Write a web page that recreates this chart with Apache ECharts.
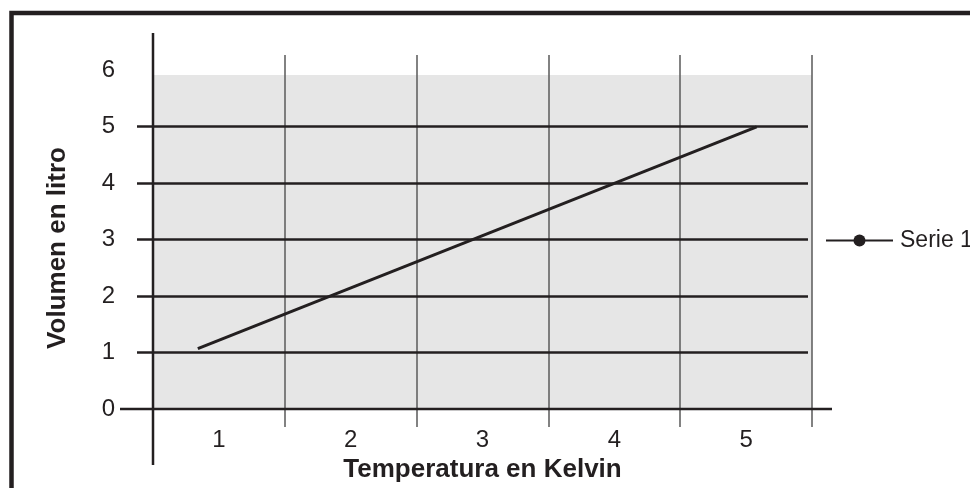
<!DOCTYPE html>
<html>
<head>
<meta charset="utf-8">
<script src="https://cdn.jsdelivr.net/npm/echarts@6/dist/echarts.min.js"></script>
<style>
html,body{margin:0;padding:0;background:#fff;}
#chart{width:970px;height:488px;}
</style>
</head>
<body>
<div id="chart"></div>
<script>
// ---- data ----
var categories = ['1', '2', '3', '4', '5'];
var yTicks = [0, 1, 2, 3, 4, 5, 6];
var seriesName = 'Serie 1';
var serieTemp = [0.84, 5.08];   // position along temperature axis (category centres = 1..5)
var serieVol = [1.07, 5.0];     // volume in litro
var yMin = 0, yMax = 6, yInterval = 1;
var shadeTop = 5.92;            // top of grey plot background
var xTitle = 'Temperatura en Kelvin';
var yTitle = 'Volumen en litro';

var INK = '#231f20';
var GRAYLINE = '#5a5a5a';
var FONT = '"Liberation Sans", Arial, sans-serif';

var lineData = serieTemp.map(function (t, i) { return [t, serieVol[i]]; });

var chart = echarts.init(document.getElementById('chart'), null, {renderer: 'canvas'});
chart.setOption({
  animation: false,
  backgroundColor: '#ffffff',
  textStyle: {fontFamily: FONT, color: INK},
  grid: [
    // grid 0: horizontal rules + y labels
    {left: 137, right: 162, top: 70, bottom: 79, show: false},
    // grid 1: shaded plot area + categories + series
    {left: 153, right: 158, top: 75, bottom: 79, show: true, backgroundColor: '#e6e6e6', borderWidth: 0, z: 0}
  ],
  xAxis: [
    {gridIndex: 0, type: 'value', show: false, min: 0, max: 1},
    {gridIndex: 1, type: 'category', data: categories, position: 'bottom', boundaryGap: true, z: 1,
      axisLine: {show: false},
      axisTick: {show: true, inside: false, length: 18, lineStyle: {color: GRAYLINE, width: 1.5}},
      axisLabel: {show: true, fontSize: 24, color: INK, fontFamily: FONT, margin: 19},
      splitLine: {show: true, lineStyle: {color: GRAYLINE, width: 1.5}},
      name: xTitle, nameLocation: 'middle', nameGap: 48,
      nameTextStyle: {fontSize: 26, fontWeight: 'bold', color: INK, fontFamily: FONT}
    },
    {gridIndex: 1, type: 'category', data: categories, position: 'top', boundaryGap: true, z: 1,
      axisLine: {show: false},
      axisTick: {show: true, inside: false, length: 20, lineStyle: {color: GRAYLINE, width: 1.5}},
      axisLabel: {show: false},
      splitLine: {show: false}
    },
    {gridIndex: 1, type: 'value', show: false, min: 0.5, max: 5.5}
  ],
  yAxis: [
    {gridIndex: 0, type: 'value', min: yMin, max: yMax, interval: yInterval, z: 2,
      axisLine: {show: false}, axisTick: {show: false},
      axisLabel: {show: true, fontSize: 24, color: INK, fontFamily: FONT, margin: 22, padding: [0, 0, 8, 0],
        formatter: function (v) { return yTicks.indexOf(v) >= 0 ? String(v) : ''; }},
      splitLine: {show: true, showMinLine: false, showMaxLine: false, lineStyle: {color: INK, width: 2.5}}
    },
    {gridIndex: 1, type: 'value', show: false, min: yMin, max: shadeTop}
  ],
  legend: {
    show: true, data: [seriesName], left: 825, top: 229, padding: 0,
    itemWidth: 67, itemHeight: 15,
    lineStyle: {width: 2, color: INK},
    itemStyle: {color: INK},
    textStyle: {fontSize: 23, color: INK, fontFamily: FONT, padding: [0, 0, 0, 2]}
  },
  series: [
    {name: seriesName, type: 'line', xAxisIndex: 3, yAxisIndex: 1, data: lineData,
      symbol: 'circle', symbolSize: 10, showSymbol: false, z: 5,
      lineStyle: {color: INK, width: 3}, itemStyle: {color: INK}}
  ],
  graphic: [
    {type: 'rect', z: 20, silent: true, shape: {x: 11.5, y: 13, width: 1200, height: 1000},
      style: {fill: 'none', stroke: INK, lineWidth: 4.5}},
    {type: 'line', z: 20, silent: true, shape: {x1: 153, y1: 33, x2: 153, y2: 465},
      style: {stroke: INK, lineWidth: 2.5}},
    {type: 'line', z: 20, silent: true, shape: {x1: 120, y1: 409, x2: 832, y2: 409},
      style: {stroke: INK, lineWidth: 2.5}},
    {type: 'text', z: 20, silent: true, x: 58, y: 248, rotation: Math.PI / 2,
      style: {text: yTitle, fontSize: 26, fontWeight: 'bold', fill: INK, fontFamily: FONT,
        align: 'center', verticalAlign: 'middle'}}
  ]
});
</script>
</body>
</html>
